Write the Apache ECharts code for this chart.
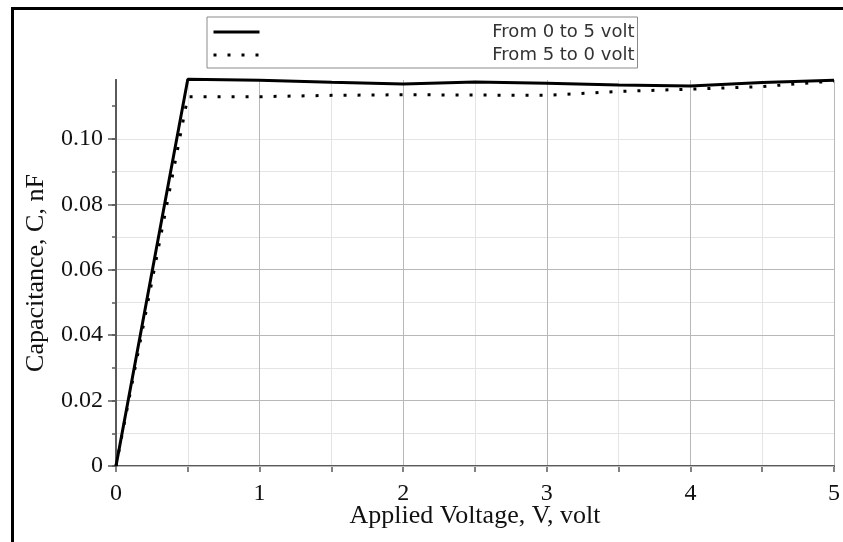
<!DOCTYPE html>
<html>
<head>
<meta charset="utf-8">
<script src="https://cdn.jsdelivr.net/npm/echarts@6/dist/echarts.min.js"></script>
<style>
  html, body { margin: 0; padding: 0; background: #fff; }
  #chart { width: 843px; height: 542px; }
  .frame {
    position: absolute; left: 11px; top: 7px; right: 0; bottom: 0;
    border-left: 3px solid #000; border-top: 3px solid #000;
    pointer-events: none;
  }
</style>
</head>
<body>
<div id="chart"></div>
<div class="frame"></div>
<script>
// applied voltage (volt)
const voltage = [0, 0.5, 1, 1.5, 2, 2.5, 3, 3.5, 4, 4.5, 5]
// capacitance, nF
const upSweep   = [0, 0.1182, 0.1179, 0.1173, 0.1168, 0.1174, 0.1170, 0.1165, 0.1162, 0.1172, 0.1179]
const downSweep = [0, 0.1129, 0.1129, 0.1133, 0.1135, 0.1134, 0.1133, 0.1145, 0.1152, 0.1160, 0.1177]
const seriesNames = ['From 0 to 5 volt', 'From 5 to 0 volt']

const xLabelTicks = [0, 1, 2, 3, 4, 5]
const yLabelTicks = [0, 0.02, 0.04, 0.06, 0.08, 0.10]
const yMinorTicks = [0, 0.01, 0.02, 0.03, 0.04, 0.05, 0.06, 0.07, 0.08, 0.09, 0.10, 0.11]

const serif = 'Liberation Serif'
const axisGrey = '#5a5a5a'

const chart = echarts.init(document.getElementById('chart'))

const option = {
  animation: false,
  grid: { left: 116, right: 5, top: 80, bottom: 76 },
  legend: {
    orient: 'vertical',
    left: 207,
    top: 17,
    padding: [6, 3, 4, 5],
    itemGap: 5,
    itemWidth: 46,
    itemHeight: 18,
    backgroundColor: '#fff',
    borderColor: '#8a8a8a',
    borderWidth: 1,
    itemStyle: { opacity: 0 },
    lineStyle: { width: 3 },
    data: seriesNames,
    formatter: name => '{t|' + name + '}',
    textStyle: {
      rich: {
        t: {
          width: 370,
          height: 18,
          align: 'right',
          fontFamily: 'DejaVu Sans',
          fontSize: 18,
          color: '#333'
        }
      }
    }
  },
  xAxis: {
    type: 'value',
    min: 0,
    max: 5,
    interval: 0.5,
    name: 'Applied Voltage, V, volt',
    nameLocation: 'middle',
    nameMoveOverlap: false,
    nameGap: 37,
    nameTextStyle: { fontFamily: serif, fontSize: 26, color: '#111' },
    axisLine: { lineStyle: { color: axisGrey, width: 2 } },
    axisTick: { length: 6, lineStyle: { color: axisGrey, width: 1.5 } },
    axisLabel: {
      customValues: xLabelTicks,
      margin: 16,
      fontFamily: serif, fontSize: 24, color: '#111'
    },
    splitLine: { show: true, lineStyle: { color: ['#b8b8b8', '#e4e4e4'], width: 1 } }
  },
  yAxis: [
    {
      type: 'value',
      position: 'left',
      min: 0,
      max: 0.118,
      interval: 0.02,
      z: 1,
      name: 'Capacitance, C, nF',
      nameLocation: 'middle',
      nameMoveOverlap: false,
      nameGap: 67,
      nameTextStyle: { fontFamily: serif, fontSize: 26, color: '#111' },
      axisLine: { show: true, lineStyle: { color: axisGrey, width: 2 } },
      axisTick: { show: true, customValues: yLabelTicks, length: 8, lineStyle: { color: axisGrey, width: 1.5 } },
      axisLabel: {
        customValues: yLabelTicks,
        margin: 13,
        fontFamily: serif, fontSize: 24, color: '#111',
        formatter: v => v === 0 ? '0' : v.toFixed(2)
      },
      splitLine: { show: true, showMaxLine: false, lineStyle: { color: '#b8b8b8', width: 1 } }
    },
    {
      // minor ticks and light grid at every 0.01
      type: 'value',
      position: 'left',
      min: 0,
      max: 0.118,
      interval: 0.01,
      z: 0,
      axisLine: { show: true, lineStyle: { color: axisGrey, width: 2 } },
      axisTick: { show: true, customValues: yMinorTicks, length: 4, lineStyle: { color: axisGrey, width: 1.5 } },
      axisLabel: { show: false },
      splitLine: { show: true, showMaxLine: false, lineStyle: { color: '#e4e4e4', width: 1 } }
    }
  ],
  series: [
    {
      name: seriesNames[0],
      type: 'line',
      symbol: 'none',
      clip: false,
      z: 3,
      lineStyle: { color: '#000', width: 3 },
      itemStyle: { color: '#000' },
      data: voltage.map((v, i) => [v, upSweep[i]])
    },
    {
      name: seriesNames[1],
      type: 'line',
      symbol: 'none',
      clip: false,
      z: 2,
      lineStyle: { color: '#000', width: 3, type: [3, 11] },
      itemStyle: { color: '#000' },
      data: voltage.map((v, i) => [v, downSweep[i]])
    }
  ]
}

chart.setOption(option)
</script>
</body>
</html>
